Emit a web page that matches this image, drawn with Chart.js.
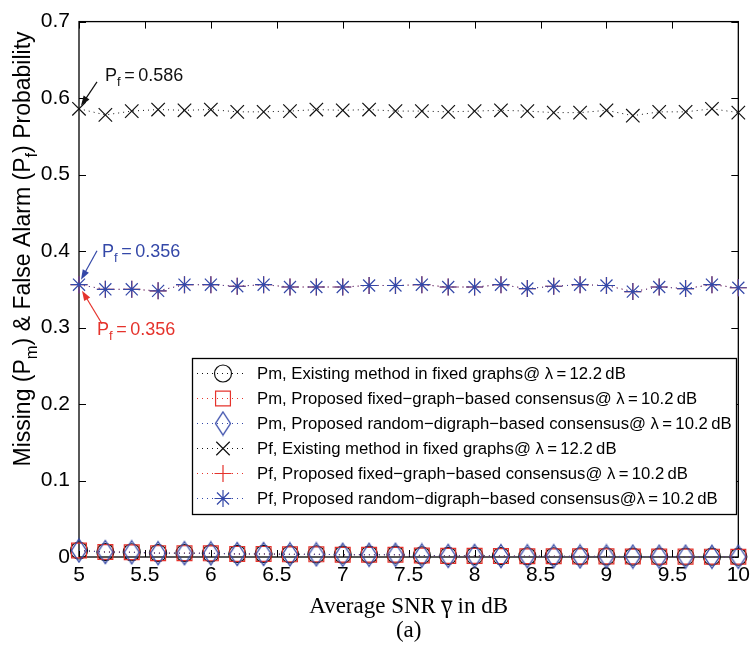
<!DOCTYPE html>
<html lang="en">
<head>
  <meta charset="UTF-8" />
  <title>Missing & False Alarm Probability vs SNR</title>
  <style>
    html, body { margin: 0; padding: 0; background: #fff; }
    #wrap { width: 756px; height: 651px; }
  </style>
</head>
<body>
  <div id="wrap"><canvas id="grafico" width="756" height="651"></canvas></div>

  <script src="https://cdn.jsdelivr.net/npm/chart.js"></script>
  <script>
    // average SNR (dB)
    const snr = [5, 5.2, 5.4, 5.6, 5.8, 6, 6.2, 6.4, 6.6, 6.8, 7, 7.2, 7.4,
                 7.6, 7.8, 8, 8.2, 8.4, 8.6, 8.8, 9, 9.2, 9.4, 9.6, 9.8, 10];

    // missing probability Pm
    const pmExisting = [0.0085, 0.0065, 0.0062, 0.005, 0.005, 0.0048, 0.004, 0.004, 0.0035, 0.0035, 0.003, 0.003, 0.003,
                        0.002, 0.0015, 0.0015, 0.0012, 0.001, 0.001, 0.0008, 0.0008, 0.0006, 0.0005, 0.0005, 0.0004, 0.0003];
    const pmFixed    = [0.0085, 0.0065, 0.0062, 0.005, 0.005, 0.0048, 0.004, 0.004, 0.0035, 0.0035, 0.003, 0.003, 0.003,
                        0.002, 0.0015, 0.0015, 0.0012, 0.001, 0.001, 0.0008, 0.0008, 0.0006, 0.0005, 0.0005, 0.0004, 0.0003];
    const pmRandom   = [0.0085, 0.0065, 0.0062, 0.005, 0.005, 0.0048, 0.004, 0.004, 0.0035, 0.0035, 0.003, 0.003, 0.003,
                        0.002, 0.0015, 0.0015, 0.0012, 0.001, 0.001, 0.0008, 0.0008, 0.0006, 0.0005, 0.0005, 0.0004, 0.0003];

    // false alarm probability Pf
    const pfExisting = [0.586, 0.578, 0.583, 0.585, 0.584, 0.585, 0.582, 0.582, 0.583, 0.585, 0.584, 0.585, 0.583,
                        0.583, 0.582, 0.583, 0.584, 0.583, 0.581, 0.581, 0.584, 0.577, 0.582, 0.582, 0.586, 0.581];
    const pfFixed    = [0.356, 0.350, 0.350, 0.348, 0.356, 0.356, 0.354, 0.356, 0.353, 0.353, 0.353, 0.355, 0.355,
                        0.356, 0.353, 0.353, 0.356, 0.351, 0.354, 0.356, 0.355, 0.347, 0.353, 0.351, 0.356, 0.352];
    const pfRandom   = [0.356, 0.350, 0.350, 0.348, 0.356, 0.356, 0.354, 0.356, 0.353, 0.353, 0.353, 0.355, 0.355,
                        0.356, 0.353, 0.353, 0.356, 0.351, 0.354, 0.356, 0.355, 0.347, 0.353, 0.351, 0.356, 0.352];

    const xTicks = [5, 5.5, 6, 6.5, 7, 7.5, 8, 8.5, 9, 9.5, 10];
    const yTicks = [0, 0.1, 0.2, 0.3, 0.4, 0.5, 0.6, 0.7];

    const legendLabels = [
      'Pm, Existing method in fixed graphs@ \u03bb\u2009=\u200912.2\u2009dB',
      'Pm, Proposed fixed\u2212graph\u2212based consensus@ \u03bb\u2009=\u200910.2\u2009dB',
      'Pm, Proposed random\u2212digraph\u2212based consensus@ \u03bb\u2009=\u200910.2\u2009dB',
      'Pf, Existing method in fixed graphs@ \u03bb\u2009=\u200912.2\u2009dB',
      'Pf, Proposed fixed\u2212graph\u2212based consensus@ \u03bb\u2009=\u200910.2\u2009dB',
      'Pf, Proposed random\u2212digraph\u2212based consensus@\u03bb\u2009=\u200910.2\u2009dB'
    ];

    const BLACK = '#111111';
    const RED = '#e5332c';
    const BLUE = '#3448a8';
    const SANS = '"Liberation Sans", Arial, sans-serif';
    const SERIF = '"Liberation Serif", "Times New Roman", serif';

    // tall diamond marker (matlab style 'd')
    function diamondMarker(color) {
      const c = document.createElement('canvas');
      c.width = 18; c.height = 26;
      const g = c.getContext('2d');
      g.strokeStyle = color;
      g.lineWidth = 1.3;
      g.beginPath();
      g.moveTo(9, 1.5); g.lineTo(16.5, 13); g.lineTo(9, 24.5); g.lineTo(1.5, 13);
      g.closePath();
      g.stroke();
      return c;
    }

    const seriesDefs = [
      { data: pmExisting, color: BLACK, style: 'circle', radius: 8.5 },
      { data: pmFixed,    color: RED,   style: 'rect',   radius: 10.5 },
      { data: pmRandom,   color: BLUE,  style: diamondMarker(BLUE), radius: 10 },
      { data: pfExisting, color: BLACK, style: 'crossRot', radius: 9.5 },
      { data: pfFixed,    color: RED,   style: 'cross',  radius: 8.5 },
      { data: pfRandom,   color: BLUE,  style: 'star',   radius: 8.5 }
    ];

    const datasets = seriesDefs.map((s, k) => ({
      label: legendLabels[k],
      data: snr.map((x, i) => ({ x: x, y: s.data[i] })),
      borderColor: s.color,
      backgroundColor: 'transparent',
      borderWidth: 1,
      borderDash: [1, 4],
      pointStyle: s.style,
      pointRadius: s.radius,
      pointHoverRadius: s.radius,
      pointBorderColor: s.color,
      pointBackgroundColor: 'transparent',
      pointBorderWidth: 1.2,
      clip: false,
      order: 6 - k
    }));

    // text with subscripts: parts = [[text, isSub], ...]
    function partsWidth(ctx, parts, size) {
      let w = 0;
      parts.forEach(p => {
        ctx.font = (p[1] ? size * 0.72 : size) + 'px ' + SANS;
        w += ctx.measureText(p[0]).width;
      });
      return w;
    }
    function drawParts(ctx, parts, x, y, size, color) {
      ctx.fillStyle = color;
      ctx.textBaseline = 'alphabetic';
      ctx.textAlign = 'left';
      parts.forEach(p => {
        ctx.font = (p[1] ? size * 0.72 : size) + 'px ' + SANS;
        ctx.fillText(p[0], x, p[1] ? y + size * 0.3 : y);
        x += ctx.measureText(p[0]).width;
      });
    }

    function arrow(ctx, x1, y1, x2, y2, color) {
      const a = Math.atan2(y2 - y1, x2 - x1);
      const hl = 10, hw = 3.5;
      ctx.strokeStyle = color;
      ctx.fillStyle = color;
      ctx.lineWidth = 1.2;
      ctx.beginPath();
      ctx.moveTo(x1, y1);
      ctx.lineTo(x2 - Math.cos(a) * hl * 0.8, y2 - Math.sin(a) * hl * 0.8);
      ctx.stroke();
      ctx.beginPath();
      ctx.moveTo(x2, y2);
      ctx.lineTo(x2 - Math.cos(a) * hl - Math.sin(a) * hw, y2 - Math.sin(a) * hl + Math.cos(a) * hw);
      ctx.lineTo(x2 - Math.cos(a) * hl + Math.sin(a) * hw, y2 - Math.sin(a) * hl - Math.cos(a) * hw);
      ctx.closePath();
      ctx.fill();
    }

    const matlabAxes = {
      id: 'matlabAxes',
      beforeDatasetsDraw(chart) {
        const { ctx, chartArea: a, scales } = chart;
        ctx.save();
        ctx.strokeStyle = '#000';
        ctx.lineWidth = 1.3;
        ctx.strokeRect(a.left, a.top, a.right - a.left, a.bottom - a.top);
        ctx.lineWidth = 1;
        ctx.beginPath();
        const tl = 7;
        xTicks.forEach(v => {
          const px = Math.round(scales.x.getPixelForValue(v)) + 0.5;
          ctx.moveTo(px, a.bottom); ctx.lineTo(px, a.bottom - tl);
          ctx.moveTo(px, a.top); ctx.lineTo(px, a.top + tl);
        });
        yTicks.forEach(v => {
          const py = Math.round(scales.y.getPixelForValue(v)) + 0.5;
          ctx.moveTo(a.left, py); ctx.lineTo(a.left + tl, py);
          ctx.moveTo(a.right, py); ctx.lineTo(a.right - tl, py);
        });
        ctx.stroke();
        ctx.restore();
      },
      afterDraw(chart) {
        const { ctx, chartArea: a, scales } = chart;
        ctx.save();

        // y axis title
        const yParts = [['Missing (P', 0], ['m', 1], [') & False Alarm (P', 0], ['f', 1], [') Probability', 0]];
        ctx.save();
        ctx.translate(30, 249);
        ctx.rotate(-Math.PI / 2);
        const yw = partsWidth(ctx, yParts, 23);
        drawParts(ctx, yParts, -yw / 2, 0, 23, '#000');
        ctx.restore();

        // x axis title with bar over gamma
        const cx = (a.left + a.right) / 2;
        ctx.font = '23px ' + SERIF;
        ctx.fillStyle = '#000';
        ctx.textBaseline = 'alphabetic';
        ctx.textAlign = 'left';
        const t1 = 'Average SNR ', t2 = '\u03b3', t3 = ' in dB';
        const w1 = ctx.measureText(t1).width, w2 = ctx.measureText(t2).width, w3 = ctx.measureText(t3).width;
        let tx = cx - (w1 + w2 + w3) / 2;
        ctx.fillText(t1, tx, 613);
        ctx.fillText(t2, tx + w1, 613);
        ctx.fillText(t3, tx + w1 + w2, 613);
        ctx.fillRect(tx + w1 - 0.5, 600.5, w2 + 1, 1.5);
        ctx.textAlign = 'center';
        ctx.fillText('(a)', cx, 637);

        // value callouts at snr = 5
        const px = scales.x.getPixelForValue(snr[0]);
        const pyE = scales.y.getPixelForValue(pfExisting[0]);
        const pyR = scales.y.getPixelForValue(pfRandom[0]);
        const pyF = scales.y.getPixelForValue(pfFixed[0]);

        arrow(ctx, px + 18, pyE - 27, px + 2, pyE - 3, BLACK);
        drawParts(ctx, [['P', 0], ['f', 1], ['\u2009=\u2009' + pfExisting[0].toFixed(3), 0]], px + 26, pyE - 28, 18, BLACK);

        arrow(ctx, px + 18, pyR - 34, px + 2, pyR - 5, BLUE);
        drawParts(ctx, [['P', 0], ['f', 1], ['\u2009=\u2009' + pfRandom[0].toFixed(3), 0]], px + 23, pyR - 28, 18, BLUE);

        arrow(ctx, px + 23, pyF + 39, px + 3, pyF + 6, RED);
        drawParts(ctx, [['P', 0], ['f', 1], ['\u2009=\u2009' + pfFixed[0].toFixed(3), 0]], px + 18, pyF + 50, 18, RED);

        // legend box
        const lx = 192, ly = 358, lw = 544, lh = 156;
        ctx.fillStyle = '#fff';
        ctx.fillRect(lx, ly, lw, lh);
        ctx.strokeStyle = '#000';
        ctx.lineWidth = 1.3;
        ctx.strokeRect(lx + 0.5, ly + 0.5, lw, lh);
        seriesDefs.forEach((s, k) => {
          const ry = ly + 15.5 + k * 25;
          ctx.save();
          ctx.strokeStyle = s.color;
          ctx.lineWidth = 1;
          ctx.setLineDash([1, 4]);
          ctx.beginPath();
          ctx.moveTo(lx + 5, ry); ctx.lineTo(lx + 54, ry);
          ctx.stroke();
          ctx.restore();
          ctx.save();
          ctx.strokeStyle = s.color;
          ctx.fillStyle = 'rgba(0,0,0,0)';
          ctx.lineWidth = 1.2;
          Chart.helpers.drawPoint(ctx, { pointStyle: s.style, radius: s.radius, rotation: 0, borderWidth: 1.2 }, lx + 31, ry);
          ctx.restore();
          ctx.font = '16.7px ' + SANS;
          ctx.fillStyle = '#000';
          ctx.textAlign = 'left';
          ctx.textBaseline = 'middle';
          ctx.fillText(legendLabels[k], lx + 65, ry + 1);
        });
        ctx.restore();
      }
    };

    new Chart(document.getElementById('grafico'), {
      type: 'line',
      data: { datasets: datasets },
      plugins: [matlabAxes],
      options: {
        responsive: false,
        animation: false,
        events: [],
        layout: { padding: { top: 18, right: 13, left: 0, bottom: 0 } },
        plugins: { legend: { display: false }, tooltip: { enabled: false }, title: { display: false } },
        scales: {
          x: {
            type: 'linear', min: 5, max: 10,
            afterBuildTicks: s => { s.ticks = xTicks.map(v => ({ value: v })); },
            afterFit: s => { s.height = 94; },
            grid: { display: false, drawTicks: false },
            border: { display: false },
            ticks: { color: '#000', font: { family: SANS, size: 21 }, padding: 6, maxRotation: 0, autoSkip: false,
                     callback: v => String(v) }
          },
          y: {
            type: 'linear', min: 0, max: 0.7,
            afterBuildTicks: s => { s.ticks = yTicks.map(v => ({ value: v })); },
            afterFit: s => { s.width = 79; },
            grid: { display: false, drawTicks: false },
            border: { display: false },
            ticks: { color: '#000', font: { family: SANS, size: 21 }, padding: 9, autoSkip: false,
                     callback: v => String(v) }
          }
        }
      }
    });
  </script>
</body>
</html>
